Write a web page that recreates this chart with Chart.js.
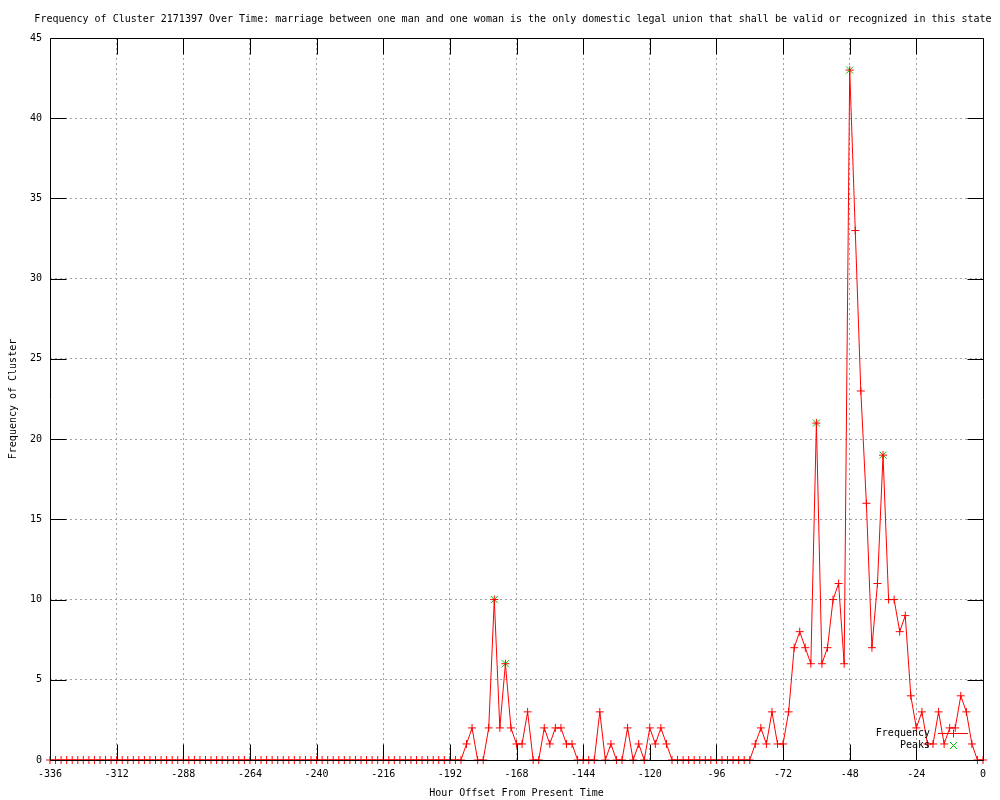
<!DOCTYPE html>
<html><head><meta charset="utf-8">
<script src="https://cdn.jsdelivr.net/npm/chart.js@4.4.0/dist/chart.umd.min.js"></script>
<style>html,body{margin:0;padding:0;background:#fff}canvas{display:block}</style>
</head><body>
<canvas id="c" width="1000" height="800"></canvas>
<script>
const TITLE = "Frequency of Cluster 2171397 Over Time: marriage between one man and one woman is the only domestic legal union that shall be valid or recognized in this state";
const X_LABEL = "Hour Offset From Present Time";
const Y_LABEL = "Frequency of Cluster";
const SERIES_NAMES = ["Frequency", "Peaks"];

const HOURS = [
 -336,-334,-332,-330,-328,-326,-324,-322,-320,-318,-316,-314,-312,-310,-308,-306,-304,-302,-300,-298,
 -296,-294,-292,-290,-288,-286,-284,-282,-280,-278,-276,-274,-272,-270,-268,-266,-264,-262,-260,-258,
 -256,-254,-252,-250,-248,-246,-244,-242,-240,-238,-236,-234,-232,-230,-228,-226,-224,-222,-220,-218,
 -216,-214,-212,-210,-208,-206,-204,-202,-200,-198,-196,-194,-192,-190,-188,
 -186,-184,-182,-180,-178,-176,-174,-172,-170,-168,
 -166,-164,-162,-160,-158,-156,-154,-152,-150,-148,
 -146,-144,-142,-140,-138,-136,-134,-132,-130,-128,
 -126,-124,-122,-120,-118,-116,-114,
 -112,-110,-108,-106,-104,-102,-100,-98,-96,-94,-92,-90,-88,-86,-84,
 -82,-80,-78,-76,-74,-72,-70,-68,-66,-64,
 -62,-60,-58,-56,-54,-52,-50,-48,-46,-44,
 -42,-40,-38,-36,-34,-32,-30,-28,-26,-24,
 -22,-20,-18,-16,-14,-12,-10,-8,-6,-4,
 -2,0
];
const FREQUENCY = [
 0,0,0,0,0,0,0,0,0,0,0,0,0,0,0,0,0,0,0,0,
 0,0,0,0,0,0,0,0,0,0,0,0,0,0,0,0,0,0,0,0,
 0,0,0,0,0,0,0,0,0,0,0,0,0,0,0,0,0,0,0,0,
 0,0,0,0,0,0,0,0,0,0,0,0,0,0,0,
 1,2,0,0,2,10,2,6,2,1,
 1,3,0,0,2,1,2,2,1,1,
 0,0,0,0,3,0,1,0,0,2,
 0,1,0,2,1,2,1,
 0,0,0,0,0,0,0,0,0,0,0,0,0,0,0,
 1,2,1,3,1,1,3,7,8,7,
 6,21,6,7,10,11,6,43,33,23,
 16,7,11,19,10,10,8,9,4,2,
 3,1,1,3,1,2,2,4,3,1,
 0,0
];
const PEAK_HOURS = [-176, -172, -60, -48, -36];
const PEAK_VALUES = [10, 6, 21, 43, 19];

const X_TICKS = [-336,-312,-288,-264,-240,-216,-192,-168,-144,-120,-96,-72,-48,-24,0];
const Y_TICKS = [0,5,10,15,20,25,30,35,40,45];

const FONT_FAMILY = "'DejaVu Sans Mono', 'Liberation Mono', monospace";
const FONT = {family: FONT_FAMILY, size: 10};
const RED = '#ff0000';
const GREEN = '#00c000';
const TICK_LEN = 16;

function plus(ctx, x, y, r, color) {
  ctx.strokeStyle = color; ctx.lineWidth = 1;
  ctx.beginPath();
  ctx.moveTo(x - r, y); ctx.lineTo(x + r, y);
  ctx.moveTo(x, y - r); ctx.lineTo(x, y + r);
  ctx.stroke();
}
function xmark(ctx, x, y, r, color) {
  ctx.strokeStyle = color; ctx.lineWidth = 1;
  ctx.beginPath();
  ctx.moveTo(x - r, y - r); ctx.lineTo(x + r, y + r);
  ctx.moveTo(x - r, y + r); ctx.lineTo(x + r, y - r);
  ctx.stroke();
}

const framePlugin = {
  id: 'frame',
  afterDatasetsDraw(chart) {
    const {ctx, chartArea: a, scales: {x, y}} = chart;
    ctx.save();
    ctx.strokeStyle = '#000';
    ctx.lineWidth = 1;
    const L = Math.round(a.left) + 0.5, R = Math.round(a.right) + 0.5;
    const T = Math.round(a.top) + 0.5, B = Math.round(a.bottom) + 0.5;
    ctx.beginPath();
    ctx.rect(L, T, R - L, B - T);
    X_TICKS.forEach(v => {
      if (v === x.min || v === x.max) return;
      const px = Math.round(x.getPixelForValue(v)) + 0.5;
      ctx.moveTo(px, B); ctx.lineTo(px, B - TICK_LEN);
      ctx.moveTo(px, T); ctx.lineTo(px, T + TICK_LEN);
    });
    Y_TICKS.forEach(v => {
      if (v === y.min || v === y.max) return;
      const py = Math.round(y.getPixelForValue(v)) + 0.5;
      ctx.moveTo(L, py); ctx.lineTo(L + TICK_LEN, py);
      ctx.moveTo(R, py); ctx.lineTo(R - TICK_LEN, py);
    });
    ctx.stroke();
    ctx.restore();
  },
  afterDraw(chart) {
    const {ctx, chartArea: a} = chart;
    ctx.save();
    ctx.fillStyle = '#000';
    ctx.font = '10px ' + FONT_FAMILY;
    ctx.textBaseline = 'alphabetic';
    ctx.textAlign = 'center';
    ctx.fillText(TITLE, 513, 22);
    // legend
    ctx.textAlign = 'right';
    ctx.textBaseline = 'middle';
    const tx = a.right - 53;
    const y1 = a.bottom - 27, y2 = a.bottom - 15;
    ctx.fillText(SERIES_NAMES[0], tx, y1);
    ctx.fillText(SERIES_NAMES[1], tx, y2);
    ctx.strokeStyle = RED; ctx.lineWidth = 1;
    ctx.beginPath();
    ctx.moveTo(a.right - 45, Math.round(y1) + 0.5);
    ctx.lineTo(a.right - 15, Math.round(y1) + 0.5);
    ctx.stroke();
    plus(ctx, a.right - 30 + 0.5, Math.round(y1) + 0.5, 4, RED);
    xmark(ctx, a.right - 30 + 0.5, Math.round(y2) + 0.5, 3.5, GREEN);
    ctx.restore();
  }
};

new Chart(document.getElementById('c'), {
  type: 'line',
  data: {
    datasets: [
      {
        label: SERIES_NAMES[0],
        data: HOURS.map((h, i) => ({x: h, y: FREQUENCY[i]})),
        borderColor: RED,
        backgroundColor: RED,
        borderWidth: 1,
        pointStyle: 'cross',
        pointRadius: 4,
        pointBorderWidth: 1,
        pointBorderColor: RED,
        tension: 0,
        clip: false
      },
      {
        label: SERIES_NAMES[1],
        data: PEAK_HOURS.map((h, i) => ({x: h, y: PEAK_VALUES[i]})),
        showLine: false,
        borderColor: GREEN,
        backgroundColor: GREEN,
        pointStyle: 'crossRot',
        pointRadius: 5,
        pointBorderWidth: 1,
        pointBorderColor: GREEN,
        clip: false
      }
    ]
  },
  options: {
    responsive: false,
    animation: false,
    events: [],
    layout: {padding: {top: 38, right: 17, left: 0, bottom: 0}},
    plugins: {legend: {display: false}, title: {display: false}, tooltip: {enabled: false}},
    scales: {
      x: {
        type: 'linear',
        position: 'bottom',
        min: -336, max: 0,
        afterFit: s => { s.height = 40; },
        afterBuildTicks: s => { s.ticks = X_TICKS.map(v => ({value: v})); },
        ticks: {font: FONT, color: '#000', padding: 8, maxRotation: 0, autoSkip: false, callback: v => String(v)},
        grid: {color: '#a0a0a0', lineWidth: 1, drawTicks: false},
        border: {display: false, dash: [2, 3]},
        title: {display: true, text: X_LABEL, font: FONT, color: '#000', padding: {top: 0, bottom: 1}}
      },
      y: {
        type: 'linear',
        position: 'left',
        min: 0, max: 45,
        afterFit: s => { s.width = 50; },
        afterBuildTicks: s => { s.ticks = Y_TICKS.map(v => ({value: v})); },
        ticks: {font: FONT, color: '#000', padding: 8, callback: v => String(v)},
        grid: {color: '#a0a0a0', lineWidth: 1, drawTicks: false},
        border: {display: false, dash: [2, 3]},
        title: {display: true, text: Y_LABEL, font: FONT, color: '#000', padding: {top: 7, bottom: 0}}
      }
    }
  },
  plugins: [framePlugin]
});
</script>
</body></html>
